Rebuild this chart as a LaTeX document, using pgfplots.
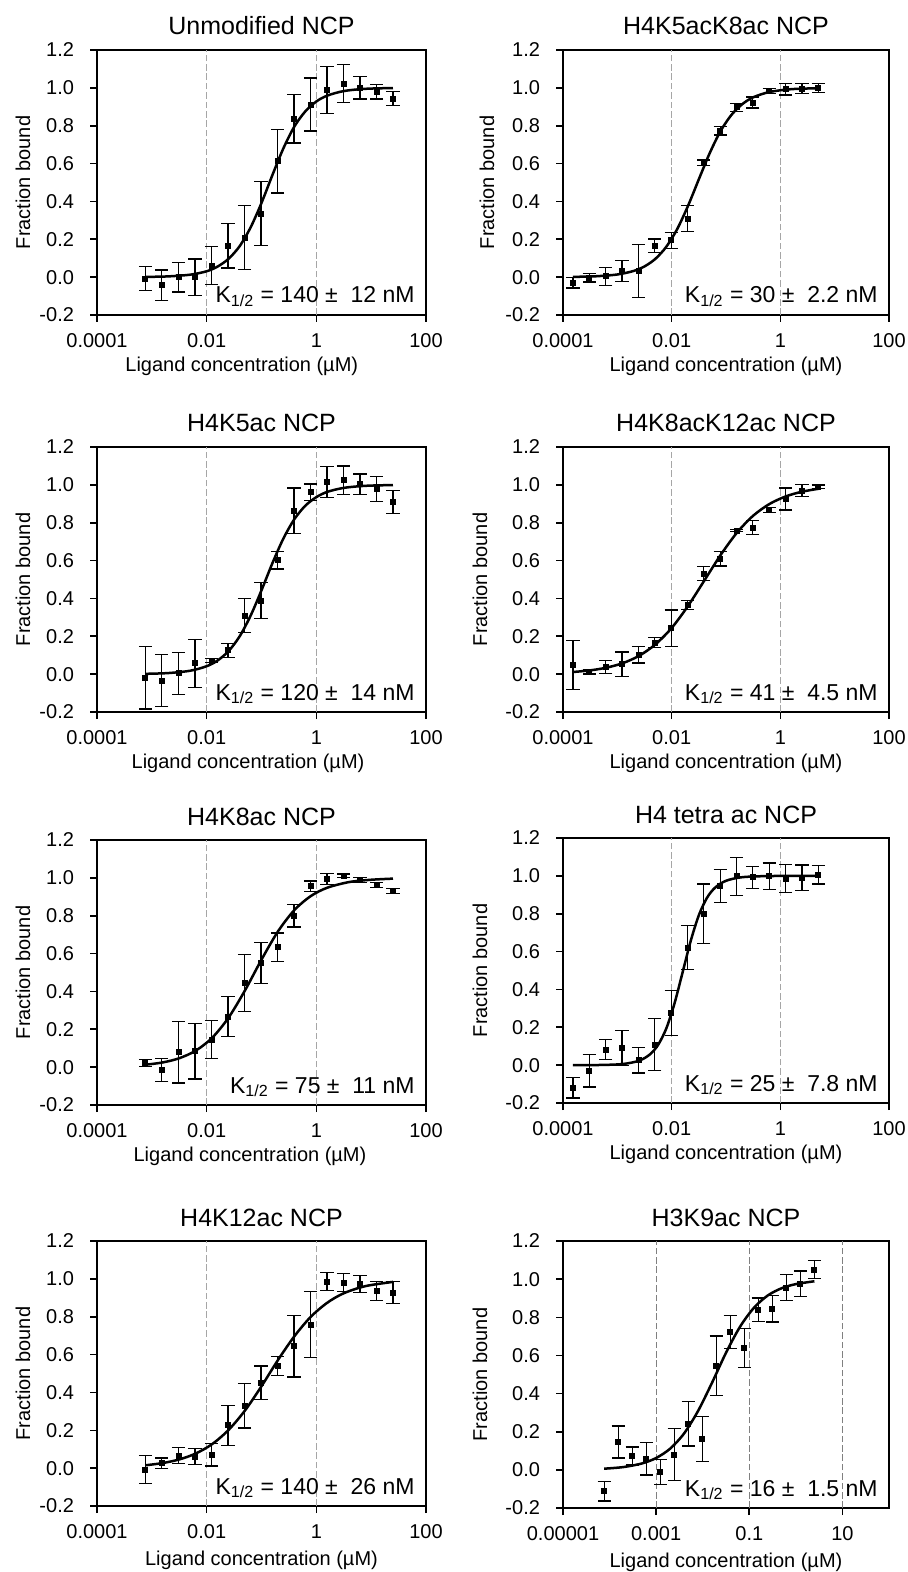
\documentclass[border=0pt]{standalone}
\usepackage{fontspec}
\setmainfont{Liberation Sans}
\usepackage{pgfplots}
\usepackage{pgfplotstable}
\pgfplotsset{compat=1.18}

% measured data: x (uM), fraction bound, error
\pgfplotstableread{
x y e
0.000763 -0.007 0.063
0.001526 -0.042 0.080
0.003052 0.000 0.079
0.006104 0.000 0.096
0.012207 0.062 0.099
0.024414 0.166 0.118
0.048828 0.209 0.170
0.097656 0.336 0.170
0.195313 0.612 0.167
0.390625 0.837 0.128
0.78125 0.912 0.140
1.5625 0.989 0.124
3.125 1.023 0.100
6.25 1.000 0.059
12.5 0.979 0.038
25 0.943 0.037
}\dataA
\pgfplotstableread{
x y e
0.0001526 -0.029 0.028
0.0003052 -0.004 0.022
0.0006104 0.005 0.048
0.0012207 0.033 0.054
0.0024414 0.033 0.140
0.0048828 0.165 0.036
0.0097656 0.195 0.042
0.0195313 0.310 0.068
0.0390625 0.604 0.015
0.078125 0.773 0.022
0.15625 0.897 0.020
0.3125 0.923 0.029
0.625 0.983 0.012
1.25 0.992 0.030
2.5 0.997 0.028
5 1.000 0.024
}\dataB
\pgfplotstableread{
x y e
0.000763 -0.018 0.166
0.001526 -0.035 0.138
0.003052 0.004 0.111
0.006104 0.057 0.127
0.012207 0.071 0.011
0.024414 0.127 0.037
0.048828 0.310 0.090
0.097656 0.389 0.096
0.195313 0.602 0.046
0.390625 0.862 0.121
0.78125 0.961 0.044
1.5625 1.014 0.081
3.125 1.025 0.075
6.25 1.004 0.053
12.5 0.979 0.066
25 0.910 0.060
}\dataC
\pgfplotstableread{
x y e
0.0001526 0.049 0.130
0.0003052 0.012 0.011
0.0006104 0.038 0.036
0.0012207 0.052 0.065
0.0024414 0.103 0.044
0.0048828 0.166 0.026
0.0097656 0.243 0.096
0.0195313 0.366 0.023
0.0390625 0.532 0.037
0.078125 0.609 0.038
0.15625 0.759 0.007
0.3125 0.775 0.038
0.625 0.867 0.012
1.25 0.925 0.058
2.5 0.969 0.032
5 0.990 0.009
}\dataD
\pgfplotstableread{
x y e
0.000763 0.021 0.018
0.001526 -0.014 0.060
0.003052 0.079 0.163
0.006104 0.084 0.147
0.012207 0.146 0.100
0.024414 0.267 0.105
0.048828 0.445 0.151
0.097656 0.550 0.110
0.195313 0.633 0.076
0.390625 0.800 0.060
0.78125 0.955 0.028
1.5625 0.994 0.031
3.125 1.011 0.009
6.25 0.988 0.014
12.5 0.962 0.014
25 0.929 0.013
}\dataE
\pgfplotstableread{
x y e
0.0001526 -0.119 0.054
0.0003052 -0.030 0.085
0.0006104 0.082 0.052
0.0012207 0.091 0.093
0.0024414 0.026 0.067
0.0048828 0.109 0.139
0.0097656 0.275 0.118
0.0195313 0.622 0.117
0.0390625 0.800 0.157
0.078125 0.946 0.086
0.15625 0.998 0.100
0.3125 0.993 0.058
0.625 0.998 0.070
1.25 0.986 0.072
2.5 0.989 0.068
5 1.005 0.048
}\dataF
\pgfplotstableread{
x y e
0.000763 -0.007 0.074
0.001526 0.027 0.027
0.003052 0.067 0.043
0.006104 0.062 0.041
0.012207 0.071 0.060
0.024414 0.227 0.106
0.048828 0.330 0.118
0.097656 0.452 0.088
0.195313 0.539 0.050
0.390625 0.644 0.162
0.78125 0.759 0.174
1.5625 0.985 0.048
3.125 0.981 0.048
6.25 0.972 0.045
12.5 0.937 0.050
25 0.928 0.058
}\dataG
\pgfplotstableread{
x y e
0.0000763 -0.111 0.052
0.0001526 0.146 0.084
0.0003052 0.073 0.047
0.0006104 0.059 0.086
0.0012207 -0.011 0.065
0.0024414 0.080 0.135
0.0048828 0.242 0.117
0.0097656 0.162 0.117
0.0195313 0.545 0.157
0.0390625 0.723 0.085
0.078125 0.639 0.102
0.15625 0.840 0.061
0.3125 0.845 0.070
0.625 0.956 0.068
1.25 0.977 0.066
2.5 1.050 0.047
}\dataH

% fitted curves
\pgfplotstableread{
x y
0.000763 0.0012
0.001995 0.004
0.005012 0.013
0.01 0.031
0.01585 0.056
0.02512 0.097
0.03981 0.163
0.0631 0.262
0.1 0.392
0.1585 0.540
0.2512 0.681
0.3981 0.796
0.631 0.876
1 0.928
1.585 0.959
3.162 0.983
7.943 0.995
25 0.999
}\fitA
\pgfplotstableread{
x y
0.0001526 0.0014
0.0003981 0.0045
0.001 0.014
0.001995 0.0327
0.003162 0.0567
0.005012 0.0966
0.007943 0.160
0.01259 0.253
0.01995 0.376
0.03162 0.517
0.05012 0.655
0.07943 0.772
0.1259 0.857
0.1995 0.914
0.3162 0.950
0.631 0.978
1.585 0.993
5 0.998
}\fitB
\pgfplotstableread{
x y
0.000763 0.0017
0.001995 0.0057
0.005012 0.018
0.01 0.0418
0.01585 0.0723
0.02512 0.122
0.03981 0.199
0.0631 0.308
0.1 0.443
0.1585 0.587
0.2512 0.717
0.3981 0.819
0.631 0.890
1 0.935
1.585 0.963
3.162 0.984
7.943 0.995
25 0.999
}\fitC
\pgfplotstableread{
x y
0.0001526 0.0113
0.0003162 0.020
0.000631 0.0342
0.001259 0.0581
0.002512 0.0968
0.005012 0.157
0.01 0.244
0.01995 0.360
0.03981 0.494
0.07943 0.629
0.1585 0.747
0.3162 0.837
0.631 0.899
1.259 0.939
2.512 0.964
5 0.979
}\fitD
\pgfplotstableread{
x y
0.000763 0.0127
0.001585 0.025
0.003162 0.0471
0.00631 0.087
0.01259 0.155
0.02512 0.262
0.05012 0.406
0.1 0.568
0.1995 0.717
0.3981 0.830
0.7943 0.904
1.585 0.948
3.981 0.978
10 0.990
25 0.996
}\fitE
\pgfplotstableread{
x y
0.0001526 0.0001
0.0005012 0.001
0.001259 0.006
0.002512 0.0234
0.003981 0.0569
0.005623 0.107
0.007943 0.193
0.01122 0.324
0.01585 0.489
0.02239 0.656
0.03162 0.792
0.04467 0.884
0.0631 0.938
0.1 0.974
0.1995 0.993
0.631 0.999
5 1.0
}\fitF
\pgfplotstableread{
x y
0.000763 0.0152
0.001585 0.027
0.003162 0.046
0.00631 0.0773
0.01259 0.127
0.02512 0.202
0.05012 0.305
0.1 0.433
0.1995 0.571
0.3981 0.697
0.7943 0.800
1.585 0.874
3.162 0.924
7.943 0.962
25 0.984
}\fitG
\pgfplotstableread{
x y
0.0000763 0.0062
0.0001995 0.0148
0.0005012 0.034
0.001 0.0623
0.001995 0.111
0.003981 0.191
0.007943 0.309
0.01585 0.457
0.03162 0.614
0.0631 0.750
0.1259 0.850
0.2512 0.915
0.5012 0.953
1 0.974
2.5 0.989
}\fitH

\pgfplotsset{
  every axis/.append style={
    scale only axis, anchor=north west, height=132.5pt,
    ymin=-0.2, ymax=1.2,
    ytick={-0.2,0,0.2,0.4,0.6,0.8,1.0,1.2},
    yticklabels={-0.2,0.0,0.2,0.4,0.6,0.8,1.0,1.2},
    xminorticks=false, yminorticks=false,
    xtick pos=bottom, ytick pos=left, tick align=outside,
    major tick length=3.5pt,
    axis line style={line width=0.9pt},
    tick style={line width=0.8pt, black},
    ticklabel style={font=\fontsize{10}{12}\selectfont},
    yticklabel style={xshift=-4.5pt},
    xticklabel style={yshift=-2.2pt},
    xlabel={Ligand concentration (µM)},
    ylabel={Fraction bound},
    label style={font=\fontsize{10}{12}\selectfont},
    xlabel style={at={(axis description cs:0.5,-0.193)}, anchor=center},
    ylabel style={at={(axis description cs:-0.225,0.5)}, anchor=center},
    title style={at={(0.5,1)}, anchor=base, yshift=1.5pt, font=\fontsize{12.5}{15}\selectfont},
  },
}
\tikzset{
  dashln/.style={gray!70, line width=0.5pt, dash pattern=on 3.3pt off 1.4pt},
  fitln/.style={black, line width=1.25pt, smooth},
}
\newcommand{\pts}[1]{\addplot[only marks, mark=square*, mark size=1.25pt, black,
    error bars/y dir=both, error bars/y explicit,
    error bars/error bar style={line width=0.6pt, black},
    error bars/error mark options={rotate=90, mark size=3.3pt, line width=0.6pt, black}]
    table[x=x, y=y, y error=e] {#1};}
\newcommand{\kval}[1]{\node[anchor=base east, font=\fontsize{11.5}{13}\selectfont, inner sep=0pt,
  xshift=-5.5pt, yshift=6pt] at (rel axis cs:1,0) {K\textsubscript{1/2} = #1 nM};}
\newcommand{\vlines}{%
  \draw[dashln] (axis cs:0.01,-0.2) -- (axis cs:0.01,1.2);
  \draw[dashln] (axis cs:1,-0.2) -- (axis cs:1,1.2);}

\begin{document}
\begin{tikzpicture}
\path[use as bounding box] (0,0) rectangle (453.5pt,-786pt);

\begin{axis}[xmode=log, xmin=1e-4, xmax=100, xtick={1e-4,1e-2,1,100}, xticklabels={0.0001,0.01,1,100},
  width=164.5pt, at={(48.5pt,-25pt)}, title={Unmodified NCP},
  xlabel style={at={(axis description cs:0.44,-0.193)}}]
\vlines
\addplot[fitln] table[x=x,y=y] {\fitA};
\pts{\dataA}
\kval{140 ±\ \ 12}
\end{axis}

\begin{axis}[xmode=log, xmin=1e-4, xmax=100, xtick={1e-4,1e-2,1,100}, xticklabels={0.0001,0.01,1,100},
  width=163pt, at={(281.5pt,-25pt)}, title={H4K5acK8ac NCP},
  ylabel style={at={(axis description cs:-0.233,0.5)}}]
\vlines
\addplot[fitln] table[x=x,y=y] {\fitB};
\pts{\dataB}
\kval{30 ±\ \ 2.2}
\end{axis}

\begin{axis}[xmode=log, xmin=1e-4, xmax=100, xtick={1e-4,1e-2,1,100}, xticklabels={0.0001,0.01,1,100},
  width=164.5pt, at={(48.5pt,-223.5pt)}, title={H4K5ac NCP},
  xlabel style={at={(axis description cs:0.459,-0.193)}}]
\vlines
\addplot[fitln] table[x=x,y=y] {\fitC};
\pts{\dataC}
\kval{120 ±\ \ 14}
\end{axis}

\begin{axis}[xmode=log, xmin=1e-4, xmax=100, xtick={1e-4,1e-2,1,100}, xticklabels={0.0001,0.01,1,100},
  width=163pt, at={(281.5pt,-223.5pt)}, title={H4K8acK12ac NCP},
  ylabel style={at={(axis description cs:-0.255,0.5)}}]
\vlines
\addplot[fitln] table[x=x,y=y] {\fitD};
\pts{\dataD}
\kval{41 ±\ \ 4.5}
\end{axis}

\begin{axis}[xmode=log, xmin=1e-4, xmax=100, xtick={1e-4,1e-2,1,100}, xticklabels={0.0001,0.01,1,100},
  width=164.5pt, at={(48.5pt,-420pt)}, title={H4K8ac NCP},
  xlabel style={at={(axis description cs:0.465,-0.193)}}]
\vlines
\addplot[fitln] table[x=x,y=y] {\fitE};
\pts{\dataE}
\kval{75 ±\ \ 11}
\end{axis}

\begin{axis}[xmode=log, xmin=1e-4, xmax=100, xtick={1e-4,1e-2,1,100}, xticklabels={0.0001,0.01,1,100},
  width=163pt, at={(281.5pt,-419pt)}, title={H4 tetra ac NCP},
  ylabel style={at={(axis description cs:-0.255,0.5)}}]
\vlines
\addplot[fitln] table[x=x,y=y] {\fitF};
\pts{\dataF}
\kval{25 ±\ \ 7.8}
\end{axis}

\begin{axis}[xmode=log, xmin=1e-4, xmax=100, xtick={1e-4,1e-2,1,100}, xticklabels={0.0001,0.01,1,100},
  width=164.5pt, at={(48.5pt,-620.5pt)}, title={H4K12ac NCP},
  xlabel style={at={(axis description cs:0.5,-0.205)}}]
\vlines
\addplot[fitln] table[x=x,y=y] {\fitG};
\pts{\dataG}
\kval{140 ±\ \ 26}
\end{axis}

\begin{axis}[xmode=log, xmin=1e-5, xmax=100, xtick={1e-5,1e-3,0.1,10}, xticklabels={0.00001,0.001,0.1,10},
  width=163pt, height=133.5pt, at={(281.5pt,-620.5pt)}, title={H3K9ac NCP},
  ylabel style={at={(axis description cs:-0.255,0.5)}},
  xlabel style={at={(axis description cs:0.5,-0.205)}}]
\draw[dashln, gray] (axis cs:0.001,-0.2) -- (axis cs:0.001,1.2);
\draw[dashln, gray] (axis cs:0.1,-0.2) -- (axis cs:0.1,1.2);
\draw[dashln, gray] (axis cs:10,-0.2) -- (axis cs:10,1.2);
\addplot[fitln] table[x=x,y=y] {\fitH};
\pts{\dataH}
\kval{16 ±\ \ 1.5}
\end{axis}
\end{tikzpicture}
\end{document}
